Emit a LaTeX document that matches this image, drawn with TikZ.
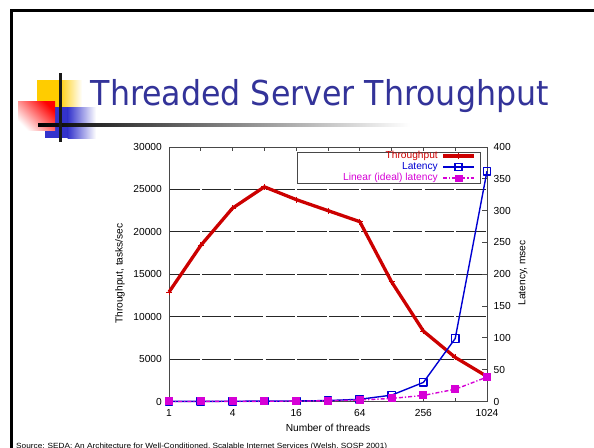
\documentclass[tikz,border=0pt]{standalone}
\usepackage{fontspec}
\setmainfont{Liberation Sans}
\newfontfamily\titlefont{DejaVu Sans}
\usetikzlibrary{plotmarks}
\definecolor{titleblue}{RGB}{51,51,153}
\definecolor{tpred}{RGB}{204,0,0}
\definecolor{latblue}{RGB}{0,0,210}
\definecolor{linmag}{RGB}{214,0,214}
\definecolor{logoyellow}{RGB}{255,204,0}
\definecolor{logoblue}{RGB}{51,51,204}
\definecolor{framegray}{RGB}{72,72,72}
\newlength\titlewd
\newlength\srcwd
\newcommand\plotfont{\fontsize{10.2}{12}\selectfont}
\newcommand\titletext{\titlefont\fontsize{34.3}{40}\selectfont Threaded Server Throughput}
\newcommand\srctext{\fontsize{7.5}{9}\selectfont Source: SEDA: An Architecture for Well-Conditioned, Scalable Internet Services (Welsh, SOSP 2001)}
\begin{document}
% horizontal scale factors for the title and the source line
\settowidth\titlewd{\titletext}
\pgfmathsetmacro\titlesc{458/\titlewd}
\settowidth\srcwd{\srctext}
\pgfmathsetmacro\srcsc{371/\srcwd}
\begin{tikzpicture}[x=1pt,y=-1pt,
  every node/.style={inner sep=0pt},
  frameline/.style={draw=framegray,line width=0.9pt},
  gridline/.style={draw=black!85,line width=0.8pt,dash pattern=on 29.3pt off 2.5pt},
  tpline/.style={color=tpred,line width=3.3pt,line join=round},
  latline/.style={color=latblue,line width=1.4pt,line join=round},
  linline/.style={color=linmag,line width=1.4pt,dash pattern=on 4pt off 2pt on 1.2pt off 2pt},
  ticklabel/.style={font=\plotfont},
  ]
\useasboundingbox (0,0) rectangle (594,447);
\fill[white] (0,0) rectangle (594,447);

% slide frame
\draw[line width=2.6pt] (11.3,450) -- (11.3,10.5) -- (597,10.5);

% template logo: squares and crossing bars
\fill[logoyellow] (37,80) rectangle (59,108);
\shade[left color=logoyellow, right color=white] (58.5,80) rectangle (82,108);
\fill[logoblue] (45,107) rectangle (68,138.3);
\shade[left color=logoblue, right color=white] (67.5,107) rectangle (96,138.3);
\shade[top color=red, bottom color=white, shading angle=-45] (18,101.7) rectangle (55,130.7);
\shade[left color=black, middle color=black!55, right color=white] (38,123.6) rectangle (410,126.7);
\fill[black!90] (59.2,72.7) rectangle (61.9,141.7);

% title
\node[anchor=base west, text=titleblue] (title) at (90.5,105.7) {\scalebox{\titlesc}[1]{\titletext}};

% grid, frame and ticks
\foreach \v in {5,10,15,20,25}
  \draw[gridline] (170.25,{401.5-\v*8.4833}) -- (487,{401.5-\v*8.4833});
\draw[frameline] (169,147) rectangle (487,401.5);
\foreach \i in {1,...,9} {
  \draw[frameline] ({169+31.8*\i},147) -- ++(0,4);
  \draw[frameline] ({169+31.8*\i},401.5) -- ++(0,-4);
}
\foreach \m in {50,100,...,350}
  \draw[frameline] (487,{401.5-\m*0.63625}) -- ++(-5,0);

% tick labels
\foreach \v/\t in {0/0,5/5000,10/10000,15/15000,20/20000,25/25000,30/30000}
  \node[ticklabel, anchor=east] at (162,{401.5-\v*8.4833}) {\t};
\foreach \m in {0,50,100,...,400}
  \node[ticklabel, anchor=west] at (493.5,{401.5-\m*0.63625}) {\m};
\foreach \i/\t in {0/1,2/4,4/16,6/64,8/256,10/1024}
  \node[ticklabel] at ({169+31.8*\i},413) {\t};

% axis titles
\node[ticklabel, rotate=90] (ylab) at (120,273.5) {Throughput, tasks/sec};
\node[ticklabel, rotate=90] (y2lab) at (523,273) {Latency, msec};
\node[ticklabel] (xlab) at (328,427.5) {Number of threads};

% legend
\draw[frameline, fill=white] (297,152) rectangle (480,183);
\node[ticklabel, anchor=east, text=tpred] (lg1) at (438,156) {Throughput};
\node[ticklabel, anchor=east, text=latblue] (lg2) at (438,167) {Latency};
\node[ticklabel, anchor=east, text=linmag] (lg3) at (438,178) {Linear (ideal) latency};
\draw[tpline] (443,156) -- (474,156);
\path[tpred] plot[mark=+, mark size=3pt, mark options={line width=1pt}] coordinates {(458.5,156)};
\draw[latline] (443,167) -- (474,167);
\path[latblue] plot[mark=square, mark size=3.5pt, mark options={line width=1.3pt, fill=white}] coordinates {(458.5,167)};
\draw[linline] (443,178) -- (474,178);
\path[linmag] plot[mark=square*, mark size=3.3pt] coordinates {(458.5,178)};

% throughput (thousands of tasks/sec, left axis)
\begin{scope}[shift={(169,401.5)}, x=31.8pt, y=8.4833pt]
  \draw[tpline] plot[mark=+, mark size=3pt, mark options={solid, line width=1pt}]
    coordinates {(0,12.9) (1,18.4) (2,22.8) (3,25.3) (4,23.8) (5,22.5) (6,21.2) (7,14.1) (8,8.3) (9,5.2) (10,2.95)};
\end{scope}

% latencies (msec, right axis)
\begin{scope}[shift={(169,401.5)}, x=31.8pt, y=0.63625pt]
  \draw[latline] plot[mark=square, mark size=3.7pt, mark options={solid, line width=1.3pt}]
    coordinates {(0,0.1) (1,0.2) (2,0.4) (3,0.6) (4,0.8) (5,1.5) (6,3.5) (7,10) (8,30) (9,99) (10,362)};
  \draw[linline] plot[mark=square*, mark size=3.3pt, mark options={solid, fill=linmag}]
    coordinates {(0,0.0375) (1,0.075) (2,0.15) (3,0.3) (4,0.6) (5,1.2) (6,2.4) (7,4.8) (8,9.6) (9,19.2) (10,38.4)};
\end{scope}

% source line
\node[anchor=base west] (src) at (16,448) {\scalebox{\srcsc}[1]{\srctext}};
\end{tikzpicture}
\end{document}
